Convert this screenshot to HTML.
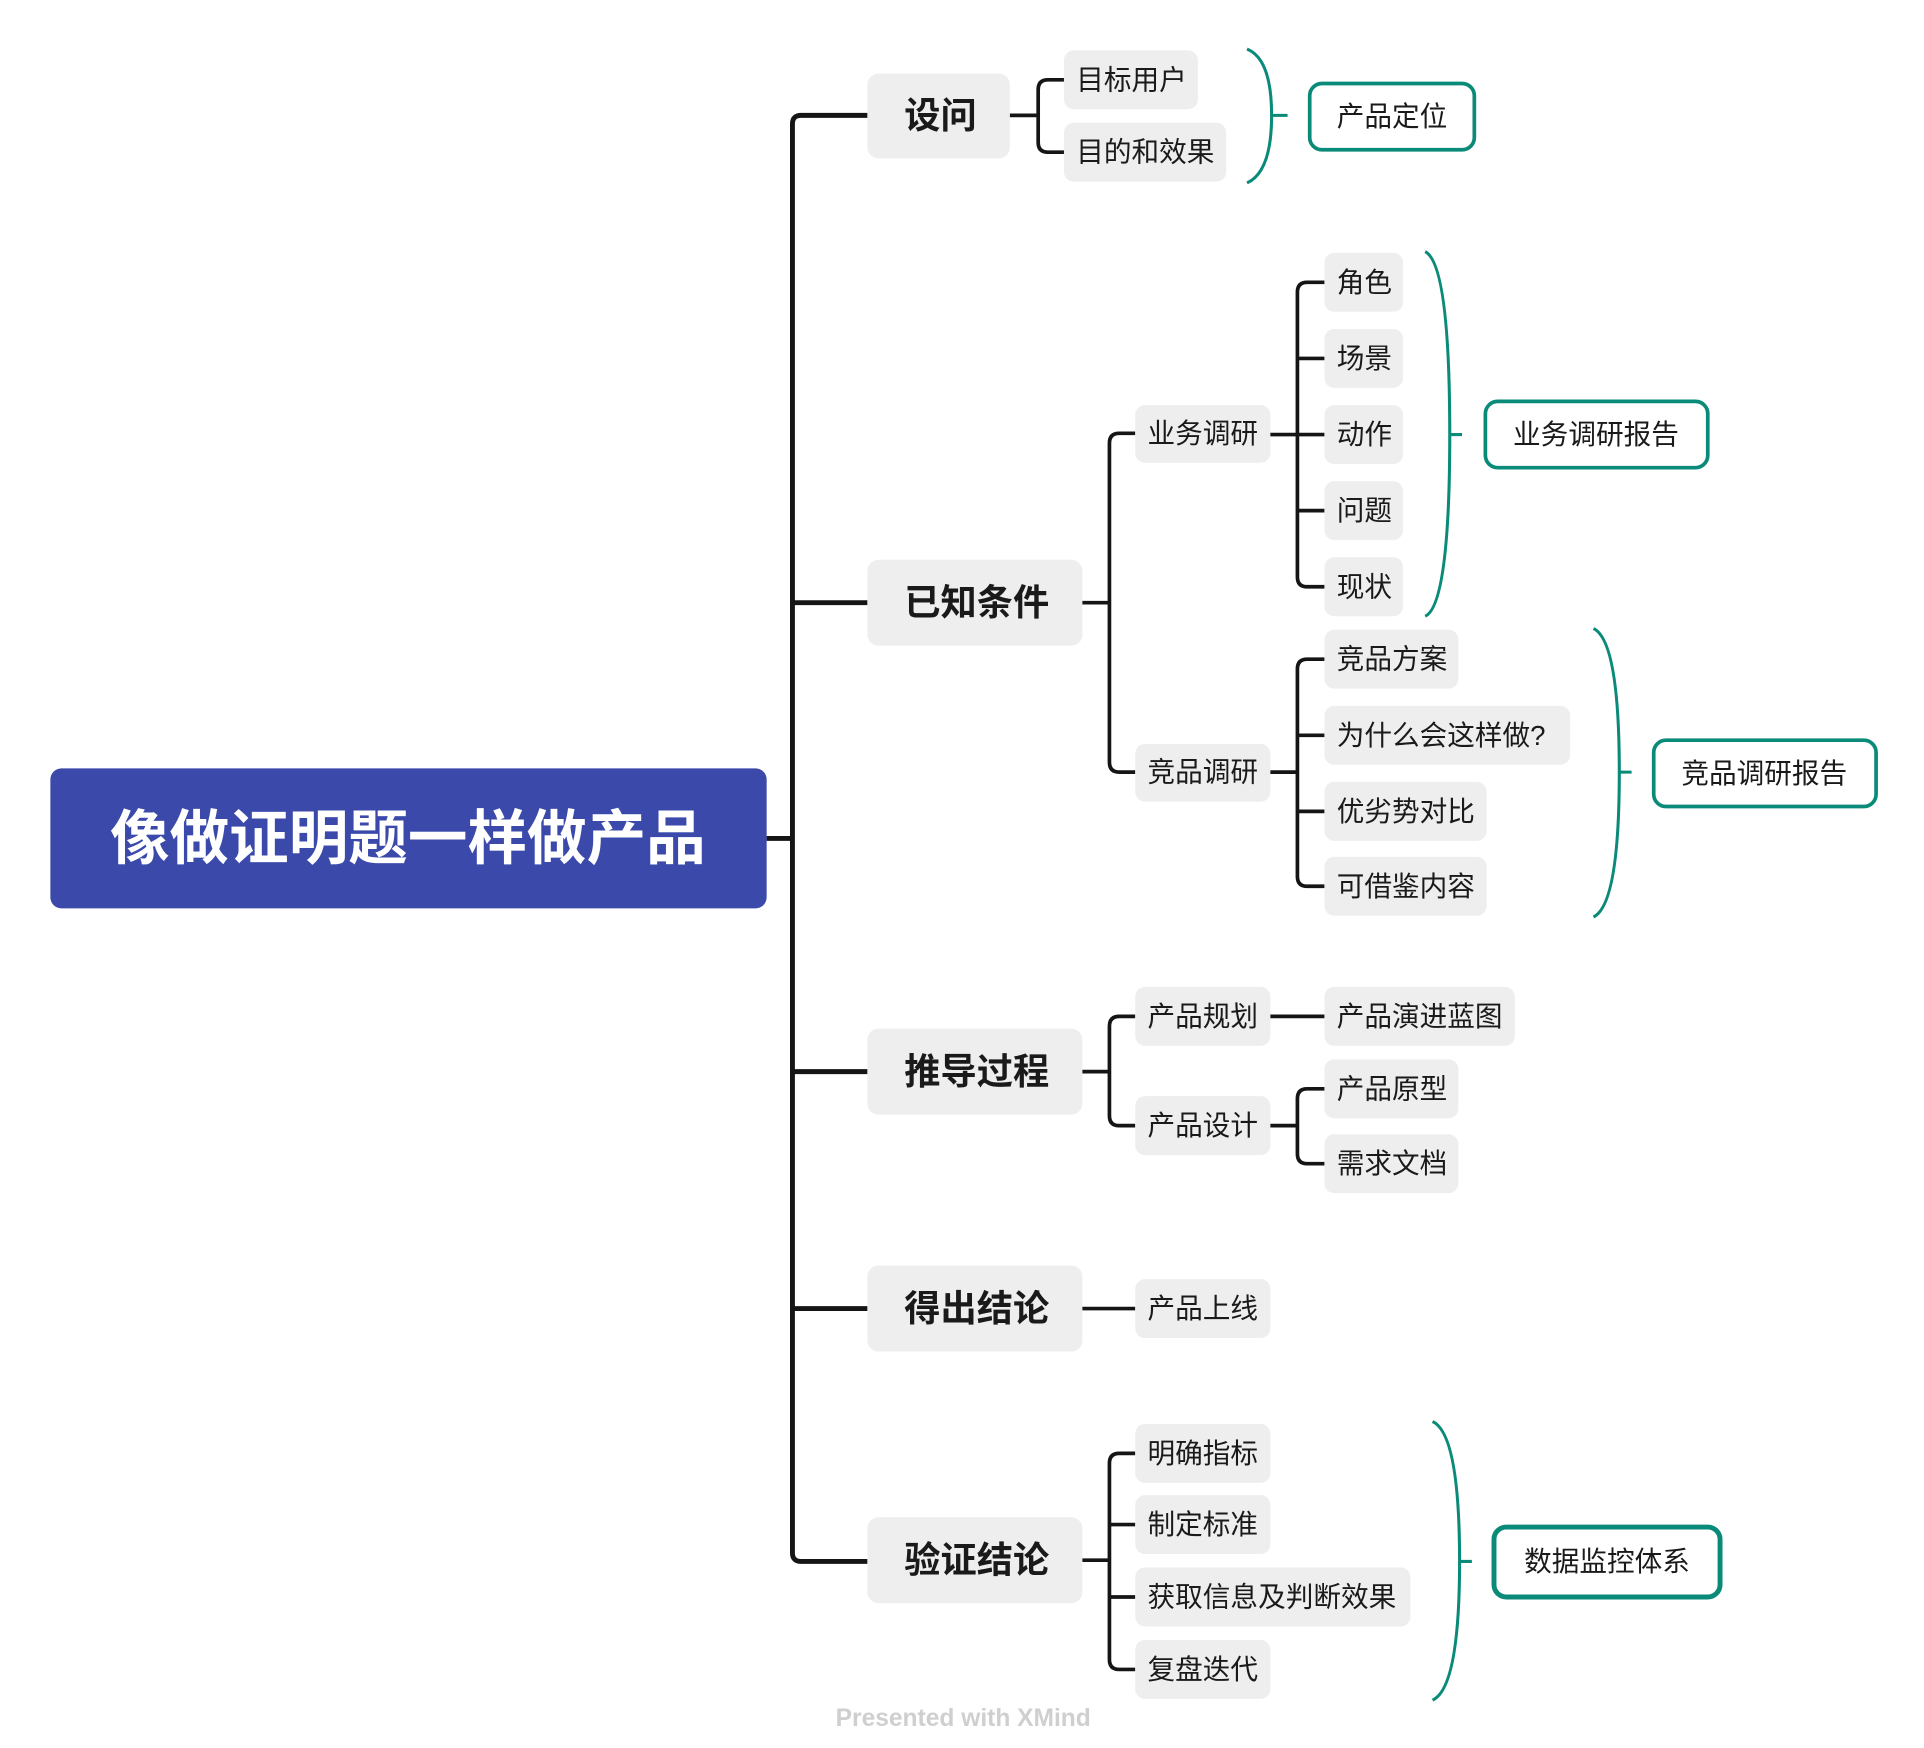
<!DOCTYPE html>
<html><head><meta charset="utf-8"><style>
html,body{margin:0;padding:0;background:#fff;}
svg{display:block;}
text{font-family:"Liberation Sans","Noto Sans CJK SC",sans-serif;dominant-baseline:central;fill:#1a1a1a;}
.l1{font-size:29.5px;font-weight:bold;}
.l2{font-size:22.5px;}
.bx{fill:#eeeeee;}
.ln{fill:none;stroke:#151515;stroke-width:3;}
.sp{fill:none;stroke:#151515;stroke-width:4;}
.tl{fill:none;stroke:#0a8a78;stroke-width:2.5;}
.sb{fill:#fff;stroke:#0a8a78;stroke-width:3;}
</style></head><body>
<svg width="1924" height="1748" viewBox="0 0 1566 1424" preserveAspectRatio="none" xmlns="http://www.w3.org/2000/svg">
<!-- title -->
<rect x="41" y="626" width="583" height="114" rx="9" fill="#3b4aaa"/>
<text x="332" y="683" text-anchor="middle" style="fill:#fff;font-size:48.5px;font-weight:bold;">像做证明题一样做产品</text>
<!-- spine -->
<path class="sp" d="M624 683 H645"/>
<path class="sp" d="M706 94 H652 Q645 94 645 101 V1265 Q645 1272 652 1272 H706"/>
<path class="sp" d="M645 491 H706 M645 873 H706 M645 1066 H706"/>
<!-- level1 boxes -->
<rect class="bx" x="706" y="60" width="116" height="69" rx="9"/><text class="l1" x="736" y="94">设问</text>
<rect class="bx" x="706" y="456" width="175" height="70" rx="9"/><text class="l1" x="736" y="491">已知条件</text>
<rect class="bx" x="706" y="838" width="175" height="70" rx="9"/><text class="l1" x="736" y="873">推导过程</text>
<rect class="bx" x="706" y="1031" width="175" height="70" rx="9"/><text class="l1" x="736" y="1066">得出结论</text>
<rect class="bx" x="706" y="1236" width="175" height="70" rx="9"/><text class="l1" x="736" y="1271">验证结论</text>

<!-- 设问 -->
<path class="ln" d="M822 94 H845 M866 65 H853 Q845 65 845 73 V116 Q845 124 853 124 H866"/>
<rect class="bx" x="866" y="41" width="109" height="48" rx="8"/><text class="l2" x="876" y="65">目标用户</text>
<rect class="bx" x="866" y="100" width="132" height="48" rx="8"/><text class="l2" x="876" y="124">目的和效果</text>
<path class="tl" d="M1015 40 Q1035 48 1035 94 Q1035 140 1015 149 M1035 94 H1048"/>
<rect class="sb" x="1066" y="68" width="134" height="54" rx="10"/><text class="l2" x="1133" y="95" text-anchor="middle">产品定位</text>

<!-- 已知条件 -->
<path class="ln" d="M881 491 H903 M924 353 H911 Q903 353 903 361 V621 Q903 629 911 629 H924"/>
<rect class="bx" x="924" y="330" width="110" height="47" rx="8"/><text class="l2" x="934" y="353">业务调研</text>
<rect class="bx" x="924" y="606" width="110" height="47" rx="8"/><text class="l2" x="934" y="629">竞品调研</text>
<path class="ln" d="M1034 354 H1078 M1078 230 H1064 Q1056 230 1056 238 V470 Q1056 478 1064 478 H1078 M1056 292 H1078 M1056 416 H1078"/>
<rect class="bx" x="1078" y="206" width="64" height="48" rx="8"/><text class="l2" x="1088" y="230">角色</text>
<rect class="bx" x="1078" y="268" width="64" height="48" rx="8"/><text class="l2" x="1088" y="292">场景</text>
<rect class="bx" x="1078" y="330" width="64" height="48" rx="8"/><text class="l2" x="1088" y="354">动作</text>
<rect class="bx" x="1078" y="392" width="64" height="48" rx="8"/><text class="l2" x="1088" y="416">问题</text>
<rect class="bx" x="1078" y="454" width="64" height="48" rx="8"/><text class="l2" x="1088" y="478">现状</text>
<path class="tl" d="M1160 205 Q1180 215 1180 354 Q1180 493 1160 502 M1180 354 H1190"/>
<rect class="sb" x="1209" y="327" width="181" height="54" rx="10"/><text class="l2" x="1299" y="354" text-anchor="middle">业务调研报告</text>

<path class="ln" d="M1034 629 H1056 M1078 537 H1064 Q1056 537 1056 545 V714 Q1056 722 1064 722 H1078 M1056 599 H1078 M1056 661 H1078"/>
<rect class="bx" x="1078" y="513" width="109" height="48" rx="8"/><text class="l2" x="1088" y="537">竞品方案</text>
<rect class="bx" x="1078" y="575" width="200" height="48" rx="8"/><text class="l2" x="1088" y="599">为什么会这样做?</text>
<rect class="bx" x="1078" y="637" width="132" height="48" rx="8"/><text class="l2" x="1088" y="661">优劣势对比</text>
<rect class="bx" x="1078" y="698" width="132" height="48" rx="8"/><text class="l2" x="1088" y="722">可借鉴内容</text>
<path class="tl" d="M1297 512 Q1318 522 1318 629 Q1318 737 1297 747 M1318 629 H1328"/>
<rect class="sb" x="1346" y="603" width="181" height="54" rx="10"/><text class="l2" x="1436" y="630" text-anchor="middle">竞品调研报告</text>

<!-- 推导过程 -->
<path class="ln" d="M881 873 H903 M924 828 H911 Q903 828 903 836 V909 Q903 917 911 917 H924"/>
<rect class="bx" x="924" y="804" width="110" height="48" rx="8"/><text class="l2" x="934" y="828">产品规划</text>
<rect class="bx" x="924" y="893" width="110" height="48" rx="8"/><text class="l2" x="934" y="917">产品设计</text>
<path class="ln" d="M1034 828 H1078"/>
<rect class="bx" x="1078" y="804" width="155" height="48" rx="8"/><text class="l2" x="1088" y="828">产品演进蓝图</text>
<path class="ln" d="M1034 917 H1056 M1078 887 H1064 Q1056 887 1056 895 V940 Q1056 948 1064 948 H1078"/>
<rect class="bx" x="1078" y="863" width="109" height="48" rx="8"/><text class="l2" x="1088" y="887">产品原型</text>
<rect class="bx" x="1078" y="924" width="109" height="48" rx="8"/><text class="l2" x="1088" y="948">需求文档</text>

<!-- 得出结论 -->
<path class="ln" d="M881 1066 H924"/>
<rect class="bx" x="924" y="1042" width="110" height="48" rx="8"/><text class="l2" x="934" y="1066">产品上线</text>

<!-- 验证结论 -->
<path class="ln" d="M881 1271 H903 M924 1184 H911 Q903 1184 903 1192 V1352 Q903 1360 911 1360 H924 M903 1242 H924 M903 1301 H924"/>
<rect class="bx" x="924" y="1160" width="110" height="48" rx="8"/><text class="l2" x="934" y="1184">明确指标</text>
<rect class="bx" x="924" y="1218" width="110" height="48" rx="8"/><text class="l2" x="934" y="1242">制定标准</text>
<rect class="bx" x="924" y="1277" width="224" height="48" rx="8"/><text class="l2" x="934" y="1301">获取信息及判断效果</text>
<rect class="bx" x="924" y="1336" width="110" height="48" rx="8"/><text class="l2" x="934" y="1360">复盘迭代</text>
<path class="tl" d="M1166 1158 Q1188 1168 1188 1272 Q1188 1375 1166 1385 M1188 1272 H1198"/>
<rect class="sb" x="1216" y="1244" width="184" height="57" rx="10" style="stroke-width:4"/><text class="l2" x="1308" y="1272" text-anchor="middle">数据监控体系</text>

<text x="784" y="1400" text-anchor="middle" style="fill:#cfcfcf;font-size:20px;font-weight:bold;">Presented with XMind</text>
</svg>
</body></html>
